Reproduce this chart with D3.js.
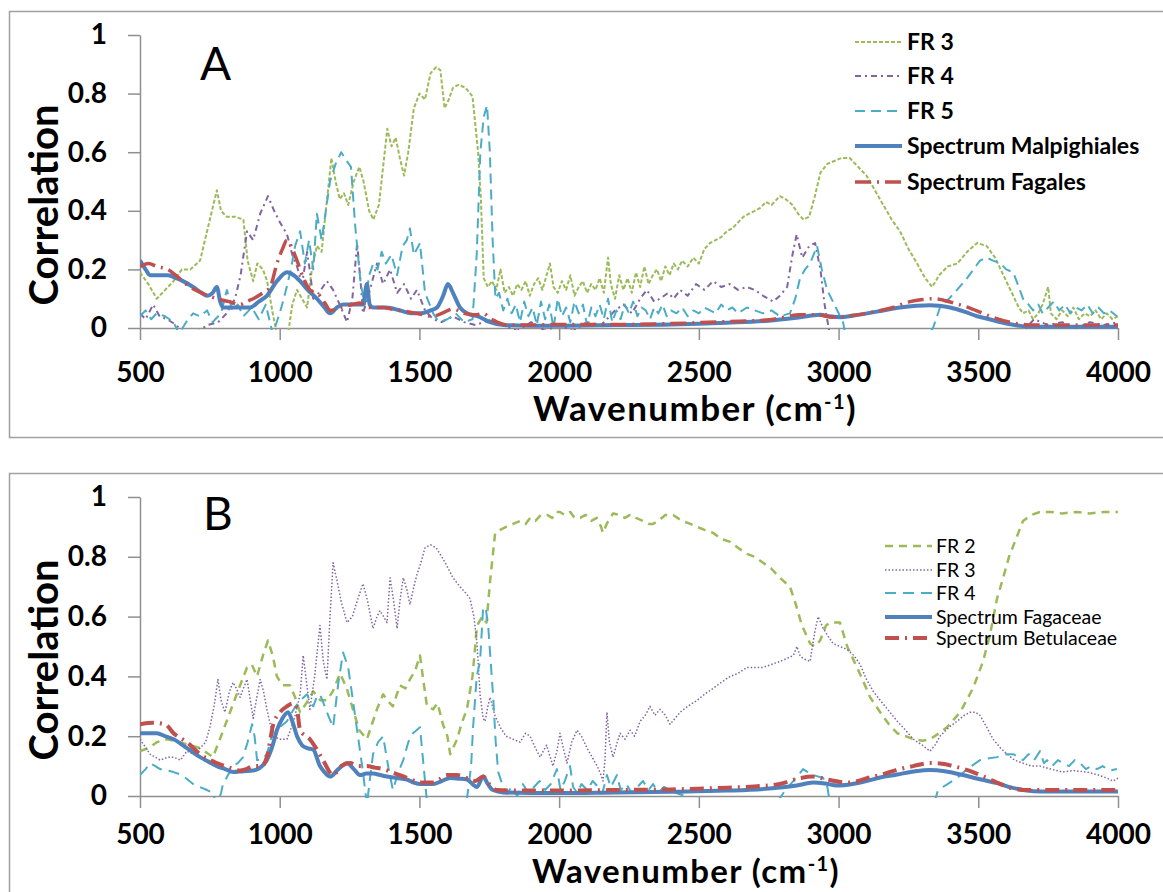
<!DOCTYPE html>
<html>
<head>
<meta charset="utf-8">
<script src="https://cdnjs.cloudflare.com/ajax/libs/d3/7.8.5/d3.min.js"></script>
<style>
body { margin: 0; background: #fff; }
text { font-family: Lato, "Open Sans", sans-serif; fill: #000; }
</style>
</head>
<body>
<svg id="chart" width="1163" height="892"></svg>
<script>
// tick values and labels
var xTicks = [500, 1000, 1500, 2000, 2500, 3000, 3500, 4000];
var yTicks = [0, 0.2, 0.4, 0.6, 0.8, 1];
var yTickLabels = ["0", "0.2", "0.4", "0.6", "0.8", "1"];

var namesA = ["FR 3", "FR 4", "FR 5", "Spectrum Malpighiales", "Spectrum Fagales"];
var namesB = ["FR 2", "FR 3", "FR 4", "Spectrum Fagaceae", "Spectrum Betulaceae"];

// ---- panel A : [wavenumber, correlation] ----
var aFR3 = [[500,0.19],[530,0.15],[560,0.10],[590,0.13],[620,0.16],[650,0.2],[680,0.2],[715,0.23],[745,0.35],[775,0.47],[790,0.40],[810,0.38],[840,0.38],[870,0.37],[885,0.23],[905,0.16],[920,0.22],[940,0.2],[955,0.16],[975,0.05],[990,-0.02],[1030,-0.02],[1045,0.08],[1062,0.13],[1080,0.1],[1098,0.07],[1115,0.2],[1133,0.28],[1150,0.26],[1165,0.4],[1185,0.58],[1200,0.5],[1215,0.44],[1230,0.46],[1245,0.42],[1265,0.5],[1285,0.55],[1300,0.5],[1320,0.4],[1335,0.37],[1355,0.42],[1370,0.55],[1385,0.68],[1400,0.62],[1415,0.65],[1430,0.58],[1445,0.52],[1460,0.6],[1480,0.75],[1500,0.8],[1520,0.78],[1540,0.87],[1560,0.89],[1575,0.88],[1590,0.75],[1605,0.78],[1620,0.82],[1640,0.83],[1665,0.82],[1690,0.79],[1710,0.6],[1720,0.44],[1730,0.17],[1745,0.14],[1760,0.16],[1775,0.13],[1790,0.2],[1805,0.12],[1820,0.14],[1835,0.11],[1850,0.15],[1865,0.13],[1880,0.16],[1895,0.11],[1910,0.15],[1925,0.17],[1940,0.13],[1955,0.18],[1967,0.22],[1980,0.14],[1995,0.12],[2010,0.16],[2025,0.13],[2040,0.18],[2055,0.11],[2070,0.14],[2085,0.16],[2100,0.12],[2115,0.15],[2130,0.13],[2145,0.17],[2160,0.12],[2175,0.24],[2185,0.15],[2200,0.1],[2215,0.18],[2230,0.13],[2245,0.17],[2260,0.12],[2275,0.19],[2290,0.14],[2305,0.21],[2320,0.15],[2335,0.18],[2350,0.2],[2365,0.16],[2380,0.21],[2395,0.18],[2410,0.22],[2425,0.2],[2440,0.23],[2460,0.21],[2480,0.24],[2500,0.22],[2520,0.27],[2540,0.29],[2560,0.3],[2580,0.31],[2600,0.33],[2620,0.34],[2640,0.36],[2660,0.38],[2680,0.39],[2700,0.4],[2720,0.41],[2740,0.43],[2760,0.42],[2790,0.45],[2810,0.44],[2835,0.42],[2855,0.39],[2875,0.37],[2895,0.38],[2915,0.45],[2935,0.53],[2960,0.56],[2985,0.57],[3010,0.58],[3040,0.58],[3070,0.55],[3100,0.52],[3130,0.47],[3160,0.42],[3190,0.37],[3220,0.33],[3250,0.27],[3281,0.22],[3310,0.17],[3335,0.14],[3360,0.18],[3390,0.21],[3425,0.22],[3460,0.26],[3496,0.29],[3530,0.28],[3560,0.24],[3580,0.2],[3600,0.16],[3625,0.11],[3645,0.07],[3660,0.05],[3680,0.06],[3696,0.03],[3715,0.05],[3730,0.08],[3750,0.14],[3760,0.05],[3780,0.03],[3800,0.06],[3820,0.04],[3840,0.07],[3860,0.03],[3880,0.05],[3900,0.04],[3920,0.06],[3940,0.03],[3960,0.05],[3980,0.03],[4000,0.04]];

var aFR4 = [[500,0.05],[520,0.03],[547,0.08],[570,0.04],[597,0.03],[630,0.01],[660,-0.02],[700,-0.02],[740,0.01],[780,0.02],[810,0.05],[840,0.1],[860,0.18],[883,0.33],[905,0.3],[930,0.39],[958,0.45],[980,0.4],[1001,0.36],[1026,0.32],[1045,0.25],[1062,0.21],[1080,0.15],[1098,0.26],[1110,0.18],[1120,0.1],[1140,0.12],[1169,0.16],[1191,0.13],[1215,0.08],[1241,0.02],[1260,0.1],[1277,0.29],[1290,0.15],[1298,0.05],[1320,0.12],[1348,0.22],[1370,0.15],[1395,0.2],[1420,0.12],[1445,0.15],[1470,0.1],[1491,0.13],[1520,0.06],[1549,0.03],[1580,0.02],[1620,0.04],[1660,0.02],[1700,0.01],[1763,0.03],[1800,0.01],[1850,-0.01],[1900,0.02],[1950,-0.01],[2000,0.01],[2050,-0.01],[2100,0.02],[2150,0.01],[2171,0.03],[2200,0.06],[2230,0.08],[2260,0.05],[2290,0.1],[2314,0.13],[2340,0.09],[2361,0.1],[2390,0.12],[2410,0.1],[2433,0.13],[2460,0.11],[2490,0.15],[2520,0.13],[2551,0.16],[2580,0.14],[2610,0.15],[2640,0.13],[2672,0.14],[2700,0.13],[2730,0.11],[2766,0.09],[2790,0.11],[2816,0.14],[2835,0.25],[2850,0.32],[2870,0.24],[2895,0.28],[2916,0.29],[2935,0.2],[2950,0.08],[2970,-0.03],[3650,-0.03],[3680,0.01],[3700,0.03],[3750,0.01],[3800,0.02],[3850,0],[3900,0.02],[3950,0.01],[4000,0.02]];

var aFR5 = [[500,0.04],[520,0.06],[540,0.03],[560,0.05],[590,0.04],[620,0.02],[640,-0.02],[665,0.02],[690,0.05],[715,0.04],[740,0.06],[760,0.02],[790,0.05],[811,0.13],[830,0.06],[850,0.08],[870,0.04],[900,0.07],[925,0.03],[950,0.08],[975,-0.02],[1000,0.05],[1020,0.12],[1040,0.2],[1055,0.28],[1073,0.33],[1090,0.22],[1105,0.3],[1120,0.2],[1133,0.39],[1150,0.3],[1165,0.4],[1180,0.5],[1200,0.56],[1220,0.6],[1240,0.57],[1255,0.55],[1270,0.35],[1290,0.15],[1305,0.08],[1320,0.18],[1335,0.22],[1350,0.2],[1365,0.26],[1380,0.22],[1400,0.25],[1420,0.18],[1440,0.28],[1455,0.3],[1466,0.34],[1480,0.25],[1502,0.29],[1520,0.12],[1549,0.05],[1570,0.02],[1600,0.03],[1630,0.05],[1660,0.02],[1690,0.03],[1705,0.25],[1718,0.6],[1730,0.72],[1742,0.76],[1752,0.6],[1762,0.3],[1772,0.1],[1785,0.12],[1800,0.06],[1815,0.1],[1830,0.05],[1845,0.08],[1860,0.02],[1875,0.09],[1890,0.04],[1905,0.07],[1920,0.01],[1935,0.09],[1950,0.03],[1965,0.08],[1980,0],[1995,0.1],[2010,0.04],[2025,0.07],[2040,0.02],[2055,0.09],[2070,0.05],[2085,0.08],[2100,0.01],[2115,0.07],[2130,0.04],[2145,0.08],[2160,0.03],[2175,0.1],[2190,0.02],[2205,0.06],[2220,0.03],[2235,0.08],[2250,0.05],[2265,0.09],[2280,0.04],[2295,0.07],[2310,0.06],[2325,0.03],[2340,0.07],[2355,0.05],[2370,0.08],[2385,0.04],[2400,0.06],[2420,0.05],[2440,0.07],[2460,0.04],[2480,0.06],[2500,0.05],[2520,0.07],[2540,0.06],[2560,0.05],[2580,0.08],[2600,0.06],[2620,0.07],[2640,0.05],[2672,0.07],[2700,0.06],[2730,0.05],[2760,0.06],[2790,0.04],[2826,0.05],[2845,0.1],[2862,0.17],[2880,0.2],[2898,0.22],[2923,0.28],[2940,0.2],[2959,0.13],[2985,0.08],[3016,0.02],[3030,-0.05],[3300,-0.05],[3338,0],[3363,0.07],[3395,0.1],[3424,0.13],[3460,0.17],[3506,0.23],[3530,0.24],[3553,0.23],[3580,0.22],[3600,0.2],[3625,0.19],[3645,0.14],[3660,0.1],[3680,0.08],[3696,0.06],[3715,0.08],[3730,0.05],[3750,0.07],[3770,0.09],[3790,0.06],[3810,0.08],[3830,0.05],[3850,0.07],[3870,0.06],[3890,0.08],[3910,0.05],[3930,0.07],[3950,0.05],[3970,0.06],[3996,0.04]];

var aMalpighiales = [[500,0.23],[520,0.2],[536,0.18],[570,0.18],[600,0.18],[630,0.17],[654,0.16],[690,0.14],[720,0.12],[740,0.11],[760,0.12],[775,0.14],[787,0.09],[797,0.07],[830,0.07],[860,0.07],[894,0.07],[925,0.09],[954,0.11],[990,0.16],[1026,0.19],[1050,0.18],[1073,0.16],[1100,0.13],[1133,0.1],[1160,0.07],[1180,0.05],[1205,0.07],[1227,0.08],[1260,0.08],[1298,0.08],[1312,0.15],[1322,0.08],[1334,0.07],[1380,0.07],[1430,0.06],[1470,0.05],[1502,0.05],[1540,0.06],[1563,0.07],[1585,0.11],[1602,0.15],[1620,0.12],[1645,0.07],[1670,0.05],[1710,0.04],[1753,0.02],[1800,0.01],[1900,0.008],[2000,0.008],[2200,0.01],[2400,0.012],[2600,0.018],[2750,0.025],[2850,0.035],[2934,0.045],[2970,0.04],[3006,0.037],[3050,0.042],[3102,0.05],[3160,0.06],[3220,0.07],[3280,0.076],[3327,0.078],[3360,0.076],[3399,0.07],[3450,0.056],[3496,0.04],[3540,0.03],[3578,0.02],[3630,0.01],[3674,0.005],[3750,0.004],[4000,0.004]];

var aFagales = [[500,0.21],[530,0.22],[560,0.21],[600,0.2],[640,0.17],[679,0.14],[720,0.12],[775,0.1],[820,0.09],[858,0.08],[880,0.09],[905,0.1],[940,0.12],[966,0.14],[990,0.22],[1010,0.27],[1026,0.3],[1045,0.27],[1062,0.23],[1085,0.17],[1108,0.13],[1144,0.11],[1165,0.08],[1180,0.06],[1220,0.07],[1260,0.08],[1287,0.085],[1320,0.07],[1370,0.07],[1400,0.065],[1430,0.06],[1490,0.05],[1549,0.04],[1580,0.05],[1620,0.065],[1660,0.05],[1700,0.045],[1728,0.05],[1750,0.035],[1778,0.02],[1820,0.01],[1900,0.01],[2000,0.012],[2200,0.012],[2400,0.015],[2600,0.022],[2750,0.028],[2862,0.045],[2920,0.045],[2980,0.037],[3040,0.042],[3102,0.05],[3150,0.06],[3195,0.07],[3256,0.09],[3300,0.097],[3338,0.1],[3375,0.095],[3410,0.086],[3470,0.068],[3542,0.04],[3590,0.025],[3638,0.015],[3700,0.01],[4000,0.01]];

// ---- panel B ----
var bFR2 = [[500,0.15],[530,0.16],[560,0.18],[597,0.19],[640,0.18],[680,0.17],[715,0.16],[761,0.13],[790,0.2],[822,0.28],[850,0.35],[883,0.43],[900,0.44],[919,0.4],[940,0.47],[958,0.52],[975,0.47],[990,0.4],[1010,0.37],[1037,0.37],[1055,0.33],[1073,0.28],[1095,0.31],[1120,0.35],[1145,0.32],[1169,0.32],[1190,0.35],[1216,0.41],[1240,0.36],[1262,0.29],[1285,0.22],[1312,0.19],[1330,0.24],[1348,0.29],[1370,0.34],[1385,0.32],[1405,0.3],[1430,0.37],[1450,0.36],[1466,0.39],[1485,0.42],[1502,0.47],[1515,0.38],[1527,0.3],[1549,0.29],[1565,0.31],[1584,0.24],[1600,0.2],[1610,0.14],[1635,0.19],[1650,0.24],[1670,0.29],[1690,0.4],[1706,0.57],[1725,0.6],[1740,0.58],[1753,0.72],[1771,0.88],[1789,0.89],[1810,0.9],[1835,0.91],[1860,0.92],[1880,0.91],[1896,0.93],[1915,0.92],[1935,0.94],[1957,0.94],[1975,0.93],[1990,0.95],[2003,0.95],[2020,0.94],[2040,0.95],[2055,0.93],[2075,0.93],[2095,0.94],[2115,0.92],[2135,0.93],[2150,0.9],[2157,0.88],[2170,0.91],[2193,0.945],[2215,0.94],[2235,0.93],[2254,0.94],[2275,0.93],[2300,0.92],[2320,0.91],[2336,0.91],[2355,0.92],[2380,0.94],[2408,0.94],[2440,0.92],[2470,0.91],[2494,0.9],[2520,0.89],[2551,0.88],[2580,0.86],[2612,0.85],[2640,0.83],[2672,0.81],[2700,0.8],[2730,0.78],[2760,0.76],[2790,0.73],[2826,0.7],[2844,0.65],[2869,0.57],[2898,0.51],[2915,0.5],[2934,0.52],[2955,0.57],[2970,0.58],[3005,0.58],[3031,0.5],[3066,0.43],[3090,0.38],[3113,0.33],[3149,0.28],[3180,0.24],[3210,0.21],[3240,0.2],[3267,0.19],[3300,0.185],[3327,0.19],[3360,0.21],[3388,0.23],[3435,0.28],[3481,0.36],[3517,0.45],[3542,0.54],[3567,0.66],[3589,0.73],[3610,0.8],[3635,0.86],[3660,0.92],[3690,0.94],[3720,0.95],[3760,0.95],[3800,0.945],[3850,0.95],[3900,0.945],[3950,0.95],[4000,0.95]];

var bFR3 = [[500,0.19],[536,0.14],[572,0.12],[600,0.13],[620,0.13],[645,0.12],[668,0.15],[690,0.14],[715,0.16],[735,0.18],[750,0.23],[765,0.3],[779,0.39],[790,0.32],[804,0.28],[820,0.35],[833,0.38],[845,0.36],[858,0.33],[870,0.36],[883,0.39],[895,0.32],[905,0.26],[918,0.33],[930,0.39],[942,0.35],[954,0.29],[966,0.24],[977,0.2],[1000,0.19],[1026,0.19],[1050,0.25],[1073,0.34],[1084,0.47],[1096,0.38],[1108,0.29],[1125,0.4],[1144,0.57],[1156,0.45],[1169,0.39],[1180,0.6],[1191,0.78],[1205,0.72],[1220,0.65],[1241,0.58],[1260,0.6],[1280,0.66],[1298,0.71],[1315,0.65],[1334,0.56],[1348,0.6],[1359,0.62],[1372,0.6],[1384,0.58],[1395,0.73],[1408,0.65],[1420,0.56],[1430,0.65],[1442,0.73],[1455,0.69],[1466,0.64],[1480,0.7],[1491,0.74],[1505,0.78],[1520,0.83],[1540,0.84],[1560,0.83],[1580,0.8],[1598,0.77],[1620,0.73],[1645,0.7],[1665,0.68],[1681,0.66],[1695,0.6],[1706,0.51],[1717,0.34],[1728,0.26],[1735,0.25],[1745,0.3],[1753,0.33],[1770,0.27],[1789,0.23],[1810,0.2],[1835,0.19],[1860,0.18],[1880,0.21],[1896,0.2],[1915,0.16],[1932,0.13],[1955,0.17],[1978,0.1],[1992,0.15],[2003,0.21],[2015,0.16],[2028,0.11],[2045,0.18],[2064,0.22],[2080,0.2],[2100,0.16],[2118,0.13],[2136,0.1],[2150,0.07],[2157,0.05],[2164,0.12],[2171,0.28],[2180,0.18],[2193,0.13],[2205,0.17],[2218,0.21],[2236,0.19],[2254,0.22],[2270,0.2],[2290,0.25],[2308,0.27],[2325,0.3],[2343,0.27],[2361,0.29],[2380,0.27],[2397,0.24],[2415,0.26],[2433,0.28],[2460,0.3],[2494,0.32],[2520,0.34],[2551,0.36],[2580,0.38],[2612,0.4],[2640,0.41],[2672,0.43],[2700,0.43],[2730,0.43],[2760,0.44],[2790,0.45],[2815,0.46],[2838,0.47],[2851,0.5],[2862,0.47],[2873,0.46],[2898,0.45],[2915,0.55],[2927,0.6],[2945,0.56],[2959,0.54],[2980,0.51],[3005,0.5],[3031,0.49],[3055,0.47],[3077,0.44],[3100,0.39],[3124,0.35],[3149,0.32],[3184,0.28],[3210,0.25],[3240,0.22],[3267,0.19],[3300,0.17],[3327,0.15],[3345,0.17],[3363,0.2],[3395,0.23],[3424,0.25],[3450,0.27],[3471,0.28],[3490,0.28],[3506,0.27],[3530,0.23],[3553,0.19],[3580,0.16],[3603,0.14],[3630,0.12],[3660,0.11],[3690,0.1],[3721,0.1],[3760,0.09],[3803,0.08],[3840,0.085],[3889,0.08],[3930,0.07],[3960,0.06],[3982,0.05],[4000,0.06]];

var bFR4 = [[500,0.07],[520,0.09],[536,0.11],[555,0.1],[572,0.09],[600,0.085],[620,0.08],[650,0.07],[690,0.04],[715,0.03],[740,0.02],[760,0.01],[775,-0.03],[790,0.01],[797,0.04],[815,0.07],[833,0.1],[850,0.11],[869,0.13],[885,0.18],[901,0.24],[910,0.2],[919,0.12],[935,0.12],[954,0.14],[966,0.18],[977,0.22],[1000,0.23],[1026,0.25],[1050,0.29],[1073,0.32],[1098,0.34],[1110,0.31],[1120,0.3],[1132,0.33],[1144,0.34],[1157,0.31],[1169,0.28],[1191,0.23],[1210,0.38],[1227,0.48],[1245,0.43],[1262,0.32],[1280,0.2],[1298,0.08],[1312,-0.03],[1322,0.05],[1334,0.14],[1352,0.18],[1370,0.2],[1388,0.1],[1405,0.02],[1425,0.08],[1442,0.12],[1460,0.18],[1477,0.21],[1502,0.23],[1515,0.1],[1527,-0.02],[1560,-0.03],[1600,-0.03],[1650,-0.02],[1670,-0.01],[1685,0.1],[1692,0.23],[1705,0.4],[1717,0.45],[1728,0.63],[1737,0.63],[1746,0.57],[1755,0.45],[1764,0.33],[1773,0.18],[1782,0.08],[1800,0.03],[1814,0.01],[1830,0.03],[1850,0],[1870,0.04],[1890,0.01],[1910,0.03],[1930,0.05],[1950,0.02],[1970,0.04],[1992,0.09],[2005,0.02],[2020,0.05],[2039,0.1],[2050,0.03],[2065,0.01],[2080,0.04],[2100,0.02],[2120,0.05],[2140,0.03],[2155,0.01],[2171,0.07],[2185,0.03],[2207,0.07],[2220,0.02],[2240,0.04],[2260,0.01],[2280,0.03],[2300,0.05],[2320,0.02],[2336,0.04],[2355,0.01],[2375,0.03],[2400,0.02],[2420,0.01],[2450,0],[2480,-0.02],[2520,-0.03],[2780,-0.02],[2810,0.02],[2838,0.05],[2873,0.09],[2890,0.08],[2909,0.07],[2945,0.06],[2960,0.03],[2970,-0.03],[3340,-0.03],[3356,0.02],[3390,0.04],[3424,0.06],[3460,0.09],[3506,0.12],[3530,0.125],[3567,0.13],[3600,0.14],[3625,0.14],[3645,0.13],[3660,0.12],[3680,0.14],[3700,0.12],[3721,0.15],[3735,0.11],[3746,0.12],[3765,0.1],[3785,0.12],[3803,0.11],[3825,0.1],[3845,0.12],[3864,0.11],[3885,0.09],[3905,0.1],[3925,0.09],[3945,0.1],[3970,0.085],[3996,0.09]];

var bFagaceae = [[500,0.21],[530,0.21],[560,0.21],[590,0.2],[620,0.19],[668,0.16],[715,0.13],[745,0.115],[775,0.1],[805,0.09],[833,0.08],[870,0.083],[905,0.085],[930,0.095],[954,0.12],[975,0.17],[990,0.22],[1010,0.26],[1030,0.28],[1045,0.25],[1062,0.2],[1080,0.17],[1098,0.16],[1120,0.155],[1144,0.1],[1160,0.08],[1180,0.065],[1210,0.09],[1241,0.11],[1265,0.09],[1287,0.07],[1310,0.075],[1334,0.075],[1360,0.07],[1384,0.065],[1420,0.06],[1455,0.055],[1480,0.045],[1502,0.04],[1549,0.04],[1580,0.05],[1610,0.06],[1640,0.058],[1670,0.055],[1690,0.04],[1706,0.03],[1728,0.065],[1745,0.04],[1763,0.02],[1800,0.012],[1900,0.01],[2000,0.01],[2200,0.012],[2400,0.014],[2600,0.018],[2750,0.025],[2850,0.035],[2909,0.045],[2950,0.042],[2995,0.035],[3050,0.04],[3100,0.05],[3149,0.062],[3210,0.072],[3270,0.082],[3327,0.087],[3380,0.083],[3446,0.07],[3510,0.055],[3567,0.043],[3620,0.028],[3660,0.02],[3700,0.016],[3746,0.015],[4000,0.015]];

var bBetulaceae = [[500,0.24],[547,0.245],[590,0.24],[620,0.21],[668,0.18],[715,0.14],[775,0.11],[820,0.095],[858,0.085],[880,0.09],[905,0.1],[935,0.1],[954,0.13],[977,0.24],[1001,0.28],[1026,0.3],[1050,0.31],[1062,0.29],[1073,0.22],[1108,0.19],[1130,0.16],[1155,0.12],[1191,0.07],[1220,0.1],[1252,0.11],[1280,0.1],[1312,0.1],[1340,0.095],[1370,0.09],[1400,0.08],[1430,0.07],[1470,0.055],[1502,0.045],[1549,0.045],[1570,0.055],[1598,0.07],[1635,0.07],[1670,0.06],[1700,0.05],[1728,0.065],[1750,0.04],[1778,0.02],[1850,0.018],[2000,0.018],[2200,0.02],[2400,0.022],[2600,0.028],[2700,0.032],[2790,0.04],[2862,0.06],[2909,0.065],[2960,0.055],[3031,0.045],[3070,0.05],[3102,0.06],[3149,0.07],[3200,0.085],[3267,0.1],[3327,0.11],[3370,0.108],[3410,0.1],[3481,0.08],[3531,0.06],[3580,0.04],[3625,0.025],[3685,0.02],[4000,0.02]];

// colours of the office palette
var cGreen = "#9BBB59", cPurple = "#8064A2", cCyan = "#4BACC6", cBlue = "#4F81BD", cRed = "#C0504D";

var svg = d3.select("#chart");
var x = d3.scaleLinear().domain([500, 4000]).range([140, 1118]);

function drawPanel(id, top, bottom, frameTop, frameBottom, series, names, styles, letter, legend){
    var y = d3.scaleLinear().domain([0, 1]).range([bottom, top]);

    // panel frame
    svg.append("rect")
        .attr("x", 9.5).attr("y", frameTop + 0.5)
        .attr("width", 1165).attr("height", frameBottom - frameTop)
        .attr("fill", "none").attr("stroke", "#a0a0a0").attr("stroke-width", 1.5);

    // clip so values under the axis minimum disappear
    svg.append("clipPath").attr("id", "clip" + id)
      .append("rect")
        .attr("x", 140).attr("y", top - 10)
        .attr("width", 980).attr("height", bottom - top + 12);

    // axes
    var yAxis = d3.axisLeft(y).tickValues(yTicks)
        .tickFormat(function(d, i){ return yTickLabels[i]; })
        .tickSize(12).tickSizeOuter(0).tickPadding(21);
    var gy = svg.append("g").attr("transform", "translate(140,0)").call(yAxis);

    var xAxis = d3.axisBottom(x).tickValues(xTicks)
        .tickFormat(d3.format("d"))
        .tickSize(12).tickSizeOuter(0).tickPadding(legend.xPad);
    var gx = svg.append("g").attr("transform", "translate(0," + bottom + ")").call(xAxis);

    [gx, gy].forEach(function(g){
        g.select(".domain").attr("stroke", "#8f8f8f").attr("stroke-width", 1.5);
        g.selectAll(".tick line").attr("stroke", "#8f8f8f").attr("stroke-width", 1.5);
        g.selectAll(".tick text")
            .attr("font-family", "Lato, sans-serif")
            .attr("font-size", 28).attr("font-weight", "bold").attr("fill", "#000");
    });

    // series
    var plot = svg.append("g").attr("clip-path", "url(#clip" + id + ")");
    series.forEach(function(s, i){
        var st = styles[i];
        var line = d3.line()
            .x(function(d){ return x(d[0]); })
            .y(function(d){ return y(d[1]); })
            .curve(st.smooth ? d3.curveMonotoneX : d3.curveLinear);
        plot.append("path")
            .attr("d", line(s))
            .attr("fill", "none")
            .attr("stroke", st.color)
            .attr("stroke-width", st.width)
            .attr("stroke-dasharray", st.dash)
            .attr("stroke-linejoin", "round");
    });

    // panel letter
    svg.append("text").attr("x", letter.x).attr("y", letter.y)
        .attr("font-size", 46).text(id);

    // axis titles
    svg.append("text")
        .attr("transform", "translate(" + legend.titleX + "," + legend.titleY + ") rotate(-90)")
        .attr("text-anchor", "middle")
        .attr("font-size", 40).attr("font-weight", "bold")
        .text("Correlation");

    var xt = svg.append("text")
        .attr("x", legend.xtX).attr("y", legend.xtY)
        .attr("text-anchor", "middle")
        .attr("font-size", legend.xtSize).attr("font-weight", "bold")
        .attr("letter-spacing", 1.4);
    xt.append("tspan").text("Wavenumber (cm");
    xt.append("tspan").attr("dy", -12).attr("font-size", 20).text("-1");
    xt.append("tspan").attr("dy", 12).text(")");

    // legend
    var lg = svg.append("g");
    names.forEach(function(n, i){
        var st = styles[i];
        var ly = legend.ys[i];
        lg.append("line")
            .attr("x1", legend.x1).attr("x2", legend.x2)
            .attr("y1", ly).attr("y2", ly)
            .attr("stroke", st.color).attr("stroke-width", st.width)
            .attr("stroke-dasharray", st.dash);
        lg.append("text")
            .attr("x", legend.tx).attr("y", ly)
            .attr("dy", "0.35em")
            .attr("font-size", legend.fontSize)
            .attr("font-weight", legend.weight)
            .text(n);
    });
}

var stylesA = [
    {color: cGreen, width: 2, dash: "4,2"},
    {color: cPurple, width: 2, dash: "6,4,2,4"},
    {color: cCyan, width: 2, dash: "10,6"},
    {color: cBlue, width: 4, dash: null, smooth: true},
    {color: cRed, width: 3.5, dash: "16,6,2,6", smooth: true}
];
var stylesB = [
    {color: cGreen, width: 2.5, dash: "8,6"},
    {color: cPurple, width: 1.5, dash: "1.5,2"},
    {color: cCyan, width: 2, dash: "11,7"},
    {color: cBlue, width: 4, dash: null, smooth: true},
    {color: cRed, width: 4, dash: "14,6,2,6", smooth: true}
];

drawPanel("A", 35, 328, 11, 437,
    [aFR3, aFR4, aFR5, aMalpighiales, aFagales], namesA, stylesA,
    {x: 200, y: 80},
    {x1: 855, x2: 902, tx: 907, ys: [42, 76, 111, 146, 182], fontSize: 23, weight: "bold",
     titleX: 58, titleY: 205, xtX: 695, xtY: 421, xtSize: 35, xPad: 22});

drawPanel("B", 497, 796, 473, 900,
    [bFR2, bFR3, bFR4, bFagaceae, bBetulaceae], namesB, stylesB,
    {x: 203, y: 530},
    {x1: 885, x2: 932, tx: 936, ys: [546, 570, 593, 617, 638], fontSize: 19.5, weight: "normal",
     titleX: 58, titleY: 660, xtX: 686, xtY: 883, xtSize: 33, xPad: 16});
</script>
</body>
</html>
